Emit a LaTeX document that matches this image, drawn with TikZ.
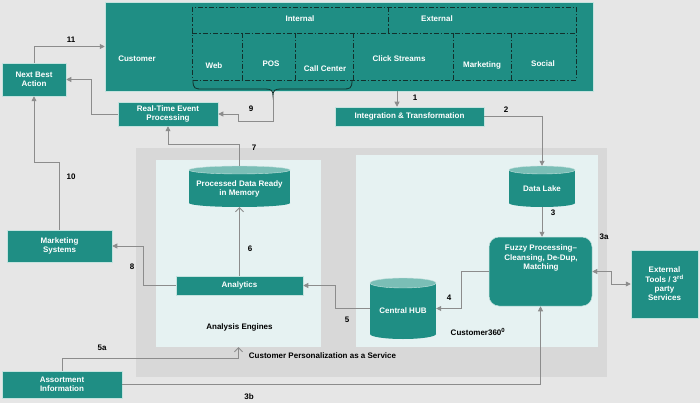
\documentclass[tikz,border=0pt]{standalone}
\usepackage{fontspec}
\setmainfont{Liberation Sans}
\usetikzlibrary{arrows.meta}

\definecolor{bgc}{RGB}{230,230,230}
\definecolor{tealc}{RGB}{31,142,132}
\definecolor{topc}{RGB}{122,190,182}
\definecolor{boxedge}{RGB}{196,226,222}
\definecolor{panelc}{RGB}{230,242,242}
\definecolor{outerc}{RGB}{216,216,216}
\definecolor{linec}{RGB}{140,140,140}
\definecolor{gridc}{RGB}{18,48,44}

\tikzset{
  txt/.style={font=\fontsize{8}{9.3}\selectfont\bfseries, inner sep=0pt, align=center},
  box/.style={txt, draw=boxedge, line width=0.5pt, fill=tealc, text=white},
  wlbl/.style={txt, text=white},
  lbl/.style={txt, text=black},
  cylnode/.style={inner sep=0pt, draw=none},
  arr/.style={draw=linec, line width=0.8pt, -{Triangle[length=5pt,width=5pt]}},
  oarr/.style={draw=linec, line width=0.8pt, -{Straight Barb[length=4pt,width=8pt]}},
  darr/.style={draw=linec, line width=0.8pt, {Triangle[length=5pt,width=5pt]}-{Triangle[length=5pt,width=5pt]}},
  gridline/.style={draw=gridc, line width=0.8pt, dash pattern=on 5pt off 2pt on 1.5pt off 2pt},
}

% database cylinder: left, top, right, bottom, end-ellipse half height
\newcommand\dbshape[5]{%
  \fill[tealc] (#1,#2+#5) rectangle (#3,#4-#5);
  \fill[tealc] ({(#1+#3)/2},#4-#5) ellipse [x radius={(#3-#1)/2}, y radius=#5];
  \filldraw[fill=topc, draw=boxedge, line width=0.4pt] ({(#1+#3)/2},#2+#5) ellipse [x radius={(#3-#1)/2}, y radius=#5];
}

\begin{document}
\begin{tikzpicture}[x=1pt,y=-1pt]
\useasboundingbox (0,0) rectangle (700,403);
\fill[bgc] (0,0) rectangle (700,403);

% service area and its two panels
\fill[outerc] (136,148) rectangle (607,377);
\fill[panelc] (156,160) rectangle (321,347);
\fill[panelc] (356,155) rectangle (598,347);
\node[cylnode, minimum width=165pt, minimum height=187pt] (ae) at (238.5,253.5) {};
\node[cylnode, minimum width=242pt, minimum height=192pt] (c360) at (477,251) {};

% customer channels
\node[box, minimum width=488pt, minimum height=89pt] (cust) at (349,46.5) {};
\node[wlbl] (custl) at (137,59) {Customer};
\path[gridline] (192,7) rectangle (576,80);
\path[gridline] (192,33) -- (576,33);
\path[gridline] (388,7) -- (388,33);
\path[gridline] (242,33) -- (242,80);
\path[gridline] (295,33) -- (295,80);
\path[gridline] (353,33) -- (353,80);
\path[gridline] (453,33) -- (453,80);
\path[gridline] (511,33) -- (511,80);
\node[wlbl] (intl) at (300,19) {Internal};
\node[wlbl] (extl) at (437,19) {External};
\node[wlbl] (web) at (214,66) {Web};
\node[wlbl] (pos) at (271,64) {POS};
\node[wlbl] (cc) at (325,69) {Call Center};
\node[wlbl] (cs) at (399,59) {Click Streams};
\node[wlbl] (mkt) at (482,65) {Marketing};
\node[wlbl] (soc) at (543,64) {Social};

% brace grouping the internal channels
\coordinate (bt) at (273,96);
\draw[gridc, line width=0.8pt] (193,80) .. controls (193,89) and (195,89) .. (203,89)
  -- (265,89) .. controls (271,89) and (273,90) .. (bt)
  .. controls (273,90) and (275,89) .. (281,89) -- (342,89)
  .. controls (350,89) and (352,89) .. (352,80);

% boxes
\node[box, minimum width=64pt, minimum height=33pt] (nba) at (34,79.5) {Next Best\\Action};
\node[box, minimum width=100pt, minimum height=24pt] (rtep) at (168,114) {Real-Time Event\\Processing};
\node[box, minimum width=149pt, minimum height=19pt] (it) at (409.5,116.5) {Integration \& Transformation};
\node[box, minimum width=105pt, minimum height=32pt] (ms) at (59.5,246) {Marketing\\Systems};
\node[box, minimum width=127pt, minimum height=19pt] (an) at (239.5,285.5) {Analytics};
\node[box, minimum width=120pt, minimum height=27pt] (asrt) at (62,384.5) {Assortment\\Information};
\node[box, minimum width=67pt, minimum height=68pt] (ext) at (664.5,284) {External\\Tools / 3\textsuperscript{rd}\\party\\Services};
\node[box, rounded corners=10pt, minimum width=103pt, minimum height=69pt] (fz) at (540.5,271.5) {};
\node[wlbl] (fzt) at (541,258) {Fuzzy Processing--\\Cleansing, De-Dup,\\Matching};

% data stores
\dbshape{189}{166}{290}{207}{4}
\node[cylnode, minimum width=101pt, minimum height=41pt] (pdm) at (239.5,186.5) {};
\node[wlbl] (pdmt) at (239.5,189) {Processed Data Ready\\in Memory};
\dbshape{509}{166}{575}{207}{4}
\node[cylnode, minimum width=66pt, minimum height=41pt] (dl) at (542,186.5) {};
\node[wlbl] (dlt) at (542,188.5) {Data Lake};
\dbshape{370}{278}{436}{339}{5}
\node[cylnode, minimum width=66pt, minimum height=61pt] (hub) at (403,308.5) {};
\node[wlbl] (hubt) at (403,311) {Central HUB};

% panel captions
\node[lbl] (aet) at (239.5,327) {Analysis Engines};
\node[lbl] (c360t) at (478,332) {Customer360\textsuperscript{0}};
\node[lbl] (cpas) at (322.5,356) {Customer Personalization as a Service};

% connectors
\draw[arr] ([xshift=-12.5pt]it.north |- cust.south) -- ([xshift=-12.5pt]it.north);
\draw[arr] (it.east) -| (dl.north);
\draw[arr] (dl.south) -- (dl.south |- fz.north);
\draw[darr] (fz.east) -- ++(19,0) |- (ext.west);
\draw[arr] (fz.west) -- ++(-27,0) |- (hub.east);
\draw[arr] (hub.west) -- ++(-34,0) |- (an.east);
\draw[oarr] (an.north) -- (pdm.south);
\draw[arr] (pdm.north) -- ++(0,-21) -| (rtep.south);
\draw[arr] (an.west) -- ++(-32,0) |- (ms.east);
\draw[arr] (bt) -- ++(0,25) -- ++(-35,0) |- (rtep.east);
\draw[arr] (ms.north) -- ++(0,-67) -| (nba.south);
\draw[arr] (nba.north) |- (cust.west);
\draw[arr] (rtep.west) -- ++(-26,0) |- (nba.east);
\draw[oarr] (asrt.north) -- ++(0,-12) -| (ae.south);
\draw[arr] (asrt.east) -| (fz.south);

% step numbers
\node[lbl] (n1) at (415,98) {1};
\node[lbl] (n2) at (506,110) {2};
\node[lbl] (n3) at (553,213) {3};
\node[lbl] (n3a) at (604,237) {3a};
\node[lbl] (n3b) at (249,397) {3b};
\node[lbl] (n4) at (449,298) {4};
\node[lbl] (n5) at (347,320) {5};
\node[lbl] (n5a) at (102,348) {5a};
\node[lbl] (n6) at (250,249) {6};
\node[lbl] (n7) at (254,148) {7};
\node[lbl] (n8) at (132,267) {8};
\node[lbl] (n9) at (251,109) {9};
\node[lbl] (n10) at (71,177) {10};
\node[lbl] (n11) at (71,40) {11};
\end{tikzpicture}
\end{document}
